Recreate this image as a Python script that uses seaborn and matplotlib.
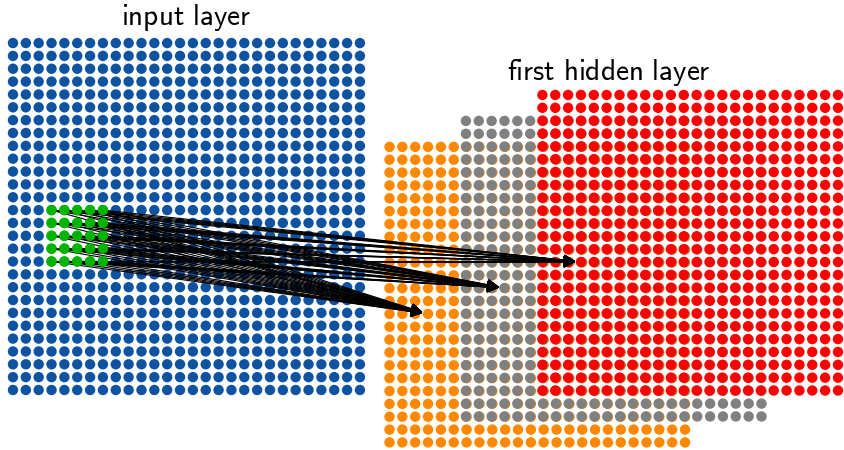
import numpy as np
import pandas as pd
import matplotlib
matplotlib.use("Agg")
import matplotlib.pyplot as plt
import seaborn as sns

# network sizes
input_size = 28
kernel_size = 5
hidden_size = input_size - kernel_size + 1   # 24
map_colors = ["#ff8800", "#808080", "#ff0000"]  # orange, gray, red feature maps
input_color = "#0e52a2"
patch_color = "#00b400"
patch_origin = (3, 13)          # column, row of receptive field in input layer
titles = ["input layer", "first hidden layer"]

sns.set_theme(style="white")
plt.rcParams["mathtext.fontset"] = "cm"

fig = plt.figure(figsize=(8.44, 4.5), dpi=100)
ax = fig.add_axes([0, 0, 1, 1])


def grid(n, x0, y0, color, layer):
    cc, rr = np.meshgrid(np.arange(n), np.arange(n))
    return pd.DataFrame({"x": cc.ravel() + x0, "y": rr.ravel() + y0,
                         "color": color, "layer": layer})


# input layer
inp = grid(input_size, 0, 0, input_color, "input")
pc, pr = patch_origin
in_patch = (inp.x >= pc) & (inp.x < pc + kernel_size) & (inp.y >= pr) & (inp.y < pr + kernel_size)
inp.loc[in_patch, "color"] = patch_color
patch = inp[in_patch]

# hidden layer feature maps, stacked with an offset
maps = []
origins = []
for k, col in enumerate(map_colors):
    x0 = 29.3 + 5.95 * k
    y0 = 8.08 - 2.02 * k
    origins.append((x0, y0))
    maps.append(grid(hidden_size, x0, y0, col, f"map{k}"))

dot = dict(s=56, linewidth=0, legend=False)
sns.scatterplot(data=inp, x="x", y="y", c=inp["color"], ax=ax, **dot)
for m in maps:
    sns.scatterplot(data=m, x="x", y="y", c=m["color"], ax=ax, **dot)

# connections: every receptive field neuron -> same neuron in each map
for (x0, y0) in origins:
    tx, ty = x0 + pc, y0 + pr
    for dr in range(kernel_size):
        for dc in range(kernel_size):
            ax.annotate("", xy=(tx, ty), xytext=(pc + dc, pr + dr),
                        arrowprops=dict(arrowstyle="-|>", color="black", lw=0.8,
                                        mutation_scale=18, shrinkA=0, shrinkB=4))

# receptive field on top of the arrow tails
sns.scatterplot(data=patch, x="x", y="y", c=patch["color"], ax=ax, zorder=5, **dot)

ax.text((input_size - 1) / 2, -1.95, r"$\mathsf{" + titles[0].replace(" ", r"\ ") + "}$",
        ha="center", va="center", fontsize=21, color="black")
x_first = origins[0][0]
x_last = origins[-1][0] + hidden_size - 1
ax.text((x_first + x_last) / 2 - 0.4, origins[-1][1] - 1.75,
        r"$\mathsf{" + titles[1].replace(" ", r"\ ") + "}$",
        ha="center", va="center", fontsize=21, color="black")

ax.set_xlim(-1.01, 64.67)
ax.set_ylim(31.67, -3.35)
ax.axis("off")

fig.savefig("out.png", dpi=100)
